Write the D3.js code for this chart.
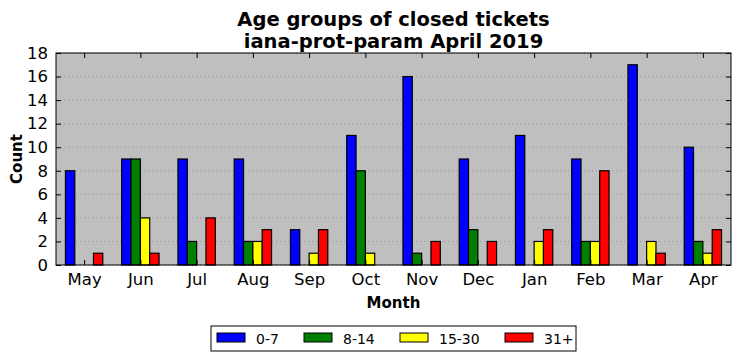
<!DOCTYPE html>
<html>
<head>
<meta charset="utf-8">
<script src="https://cdn.jsdelivr.net/npm/d3@7"></script>
<style>
  body { margin: 0; background: #fff; }
  text { font-family: "DejaVu Sans", sans-serif; }
</style>
</head>
<body>
<div id="chart"></div>
<script>
// data
const months = ["May", "Jun", "Jul", "Aug", "Sep", "Oct", "Nov", "Dec", "Jan", "Feb", "Mar", "Apr"];
const groups = ["0-7", "8-14", "15-30", "31+"];
const colors = ["#0000ff", "#008000", "#ffff00", "#ff0000"];
const age0_7 = [8, 9, 9, 9, 3, 11, 16, 9, 11, 9, 17, 10];
const age8_14 = [0, 9, 2, 2, 0, 8, 1, 3, 0, 2, 0, 2];
const age15_30 = [0, 4, 0, 2, 1, 1, 0, 0, 2, 2, 2, 1];
const age31 = [1, 1, 4, 3, 3, 0, 2, 2, 3, 8, 1, 3];
const yTicks = [0, 2, 4, 6, 8, 10, 12, 14, 16, 18];

const series = [age0_7, age8_14, age15_30, age31];

const W = 741, H = 361;
const margin = { top: 53, right: 10, bottom: 96, left: 56 };
const width = W - margin.left - margin.right;
const height = H - margin.top - margin.bottom;

const svg = d3.select("#chart").append("svg").attr("width", W).attr("height", H);
const g = svg.append("g").attr("transform", `translate(${margin.left},${margin.top})`);

const x = d3.scaleLinear().domain([-0.5, months.length - 0.5]).range([0, width]);
const y = d3.scaleLinear().domain([0, 18]).range([height, 0]);
const barW = 0.166;

// background
g.append("rect").attr("width", width).attr("height", height).attr("fill", "#bfbfbf");

// grid
g.selectAll(".grid").data(yTicks).join("line")
  .attr("x1", 0).attr("x2", width)
  .attr("y1", d => y(d)).attr("y2", d => y(d))
  .attr("stroke", "#8c8c8c").attr("stroke-width", 0.8).attr("stroke-dasharray", "1,3");

// bars
series.forEach((vals, k) => {
  g.selectAll(".b" + k).data(vals).join("rect")
    .attr("x", (d, i) => x(i - 2 * barW + k * barW))
    .attr("y", d => y(d))
    .attr("width", x(barW) - x(0))
    .attr("height", d => y(0) - y(d))
    .attr("fill", colors[k])
    .attr("stroke", "#000").attr("stroke-width", d => d > 0 ? 1.2 : 0);
});

// axes, ticks inside like matplotlib classic
const xt = d3.range(months.length);
g.append("g").attr("transform", `translate(0,${height})`)
  .call(d3.axisBottom(x).tickValues(xt).tickFormat(i => months[i]).tickSizeInner(-5).tickSizeOuter(0).tickPadding(8))
  .call(a => a.select(".domain").remove())
  .selectAll("text").style("font-size", "16.5px").attr("fill", "#000");
g.append("g")
  .call(d3.axisTop(x).tickValues(xt).tickFormat("").tickSizeInner(-5).tickSizeOuter(0))
  .call(a => a.select(".domain").remove());
g.append("g")
  .call(d3.axisLeft(y).tickValues(yTicks).tickSizeInner(-5).tickSizeOuter(0).tickPadding(8))
  .call(a => a.select(".domain").remove())
  .selectAll("text").style("font-size", "16.5px").attr("fill", "#000");
g.append("g").attr("transform", `translate(${width},0)`)
  .call(d3.axisRight(y).tickValues(yTicks).tickFormat("").tickSizeInner(-5).tickSizeOuter(0))
  .call(a => a.select(".domain").remove());

g.append("rect").attr("width", width).attr("height", height)
  .attr("fill", "none").attr("stroke", "#000").attr("stroke-width", 1);

// title
svg.append("text").attr("x", margin.left + width / 2).attr("y", 26)
  .attr("text-anchor", "middle").style("font-size", "19.5px").style("font-weight", "bold")
  .text("Age groups of closed tickets");
svg.append("text").attr("x", margin.left + width / 2).attr("y", 48)
  .attr("text-anchor", "middle").style("font-size", "19.5px").style("font-weight", "bold")
  .text("iana-prot-param April 2019");

// axis labels
svg.append("text").attr("x", margin.left + width / 2).attr("y", 308)
  .attr("text-anchor", "middle").style("font-size", "15px").style("font-weight", "bold")
  .text("Month");
svg.append("text").attr("transform", `translate(22,${margin.top + height / 2}) rotate(-90)`)
  .attr("text-anchor", "middle").style("font-size", "15px").style("font-weight", "bold")
  .text("Count");

// legend
const leg = svg.append("g").attr("transform", "translate(211,326)");
leg.append("rect").attr("width", 365).attr("height", 25)
  .attr("fill", "#fff").attr("stroke", "#000").attr("stroke-width", 1);
const legX = [6, 93, 189, 294];
groups.forEach((name, k) => {
  leg.append("rect").attr("x", legX[k]).attr("y", 7).attr("width", 28).attr("height", 9)
    .attr("fill", colors[k]).attr("stroke", "#000").attr("stroke-width", 1);
  leg.append("text").attr("x", legX[k] + 39).attr("y", 17.5)
    .style("font-size", "14px").text(name);
});
</script>
</body>
</html>
